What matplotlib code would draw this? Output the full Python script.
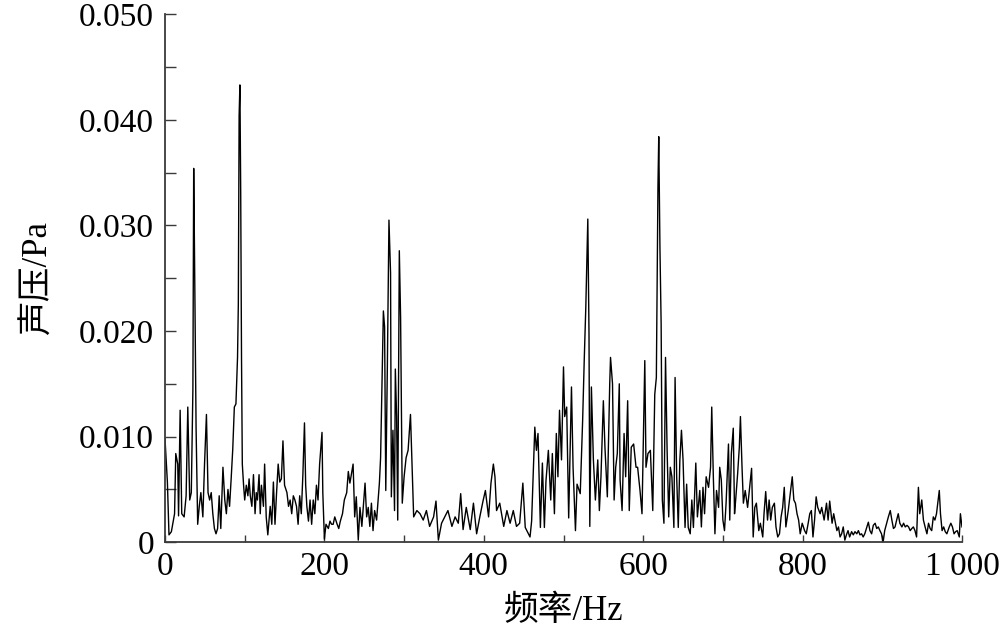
import matplotlib
matplotlib.use("Agg")
import matplotlib.pyplot as plt
from matplotlib.ticker import MultipleLocator
import numpy as np

plt.rcParams['font.family'] = ['Liberation Serif', 'Noto Sans CJK SC']

# spectrum, frequency in Hz, pressure in mPa
freq_hz = [
    0, 3, 5, 8, 12, 13.5, 16, 17, 19, 21, 24, 26.5, 28.6, 31, 33, 35, 36, 37, 39, 41,
    43, 45, 47.5, 49.6, 52, 54, 56, 58, 60, 62, 64, 66, 68, 70, 72.7, 75, 77, 79, 81, 83,
    85, 87, 89, 91, 92, 93, 94, 95, 96, 97, 98.6, 100, 102, 104, 105.5, 107, 109, 111, 113, 114.5,
    116, 118, 119.5, 121, 123.5, 125, 127, 129, 132, 134, 136, 138, 140, 142, 144, 146, 148, 150, 153, 155,
    157, 159, 161, 163, 165, 167, 169, 171, 173, 175, 176.5, 178, 180, 182, 184, 186, 188, 190, 192, 194,
    197, 198, 200, 202, 205, 207, 209, 211, 213, 216, 218, 220, 222.7, 225, 228, 230,
]
pressure_mpa = [
    9.8, 5.7, 0.7, 1.0, 2.7, 8.4, 7.4, 2.5, 12.5, 2.7, 2.4, 4.4, 12.8, 4.0, 4.7, 14.5, 35.4, 27.6, 10.8, 1.7,
    3.4, 4.7, 2.4, 7.4, 12.1, 4.7, 4.0, 4.7, 2.7, 1.3, 0.8, 1.3, 4.4, 1.3, 7.1, 4.0, 2.7, 5.0, 3.4, 6.0,
    8.8, 12.8, 13.1, 17.5, 22.5, 40.4, 43.3, 33.0, 17.5, 7.4, 5.4, 4.0, 5.4, 4.4, 6.0, 4.4, 3.4, 6.4, 2.7, 4.7,
    4.0, 6.4, 2.7, 5.4, 3.4, 7.4, 2.4, 0.7, 3.4, 1.7, 5.7, 1.7, 4.7, 7.4, 5.7, 6.0, 9.6, 5.4, 4.7, 3.4,
    4.0, 2.7, 4.4, 4.0, 3.4, 1.7, 4.4, 2.7, 6.4, 11.3, 5.4, 3.4, 2.0, 4.0, 1.7, 4.0, 2.7, 5.4, 4.0, 7.4,
    10.4, 4.7, 0.3, 1.7, 1.3, 2.0, 1.7, 1.7, 2.4, 1.7, 1.3, 2.0, 2.7, 4.0, 4.7, 6.7,
]

freq_hz += [
    232, 236, 238, 240, 242.5, 244.6, 247, 251, 253, 255, 257, 259, 261, 263, 265.5, 269, 270.5, 274, 275.5, 277,
    279, 281, 283, 284, 286, 288, 289, 290.6, 292, 294, 295.6, 297.7, 300, 302.5, 305, 308, 310, 312, 316, 320,
    324, 328, 332, 337, 340, 343, 347, 351, 355, 360, 364, 368, 371, 374, 378, 383, 387, 391, 395, 399,
    402, 406, 409, 412, 414, 416, 420, 425, 429, 433, 437, 441,
]
pressure_mpa += [
    5.6, 7.4, 2.4, 4.3, 0.2, 3.3, 1.5, 5.6, 2.4, 3.3, 1.5, 3.7, 1.1, 3.0, 2.1, 5.6, 8.0, 21.9, 20.4, 4.9,
    16.7, 30.5, 25.5, 4.3, 10.6, 3.0, 16.4, 11.9, 2.1, 27.6, 21.3, 3.7, 6.2, 8.0, 8.7, 12.1, 7.1, 2.4, 3.0, 2.7,
    2.1, 3.0, 1.5, 2.4, 3.9, 0.2, 1.8, 2.4, 3.0, 1.5, 2.4, 1.8, 4.6, 1.2, 3.3, 1.2, 3.7, 0.8, 2.4, 3.9,
    4.9, 2.4, 5.6, 7.4, 6.2, 3.0, 3.7, 1.5, 3.0, 1.8, 3.0, 1.5,
]

freq_hz += [
    445, 449, 452, 456, 458, 460, 464, 466, 468, 471, 473.5, 476, 478, 481, 484, 486, 488.6, 491, 493, 495,
    497.5, 500, 501.5, 504, 506.5, 510, 512, 515, 517, 521, 524, 526, 528, 530.5, 532, 533, 535, 537.5, 540, 543,
    545, 547, 550, 552, 555, 558, 559, 561.5, 563.5, 565.5, 567.5, 570, 571, 573.5, 576, 578, 580.5, 582.5, 585, 588,
    591, 593, 596, 598.5, 602, 603.5, 606, 609, 612, 614.5, 616.5, 618.5, 619.5, 621, 622.5, 624, 626, 628, 630, 632,
    634, 636, 638.5, 640, 642, 644, 646, 648, 650, 652.5, 654.5, 656.5, 659, 661, 663, 666, 668, 671,
]
pressure_mpa += [
    1.8, 5.6, 1.4, 0.8, 0.5, 2.0, 10.9, 8.7, 10.3, 1.4, 7.5, 1.4, 5.8, 8.7, 4.0, 8.4, 2.7, 10.3, 6.2, 12.5,
    7.8, 16.6, 11.9, 12.8, 2.3, 14.7, 7.1, 1.1, 5.5, 4.6, 11.5, 17.2, 22.3, 30.6, 19.7, 1.5, 14.7, 7.8, 4.0, 7.8,
    3.0, 6.2, 13.4, 9.0, 4.3, 15.0, 17.5, 15.0, 4.0, 7.1, 8.4, 15.0, 5.9, 3.0, 10.3, 6.2, 13.4, 3.0, 9.0, 9.3,
    7.1, 7.1, 4.9, 2.7, 17.2, 7.1, 8.4, 8.7, 3.0, 14.0, 15.6, 33.6, 38.4, 27.9, 20.7, 4.0, 1.8, 17.5, 8.7, 2.4,
    7.1, 6.2, 1.4, 15.6, 6.2, 1.4, 7.8, 10.6, 7.8, 1.4, 5.5, 1.4, 0.8, 4.0, 1.4, 7.5, 2.4, 4.9,
]

freq_hz += [
    673, 675, 677, 679, 682, 684.5, 686, 688, 690, 692, 694.6, 696, 698, 700, 702, 704, 707, 708.6, 710.6, 713,
    714.6, 716, 718.5, 720.6, 722, 724, 725.7, 728, 731, 733.5, 736, 738, 740, 742, 745, 747, 750, 751.6, 753.7, 756,
    758, 760, 762, 764.6, 766.6, 768.8, 771, 773, 775, 777, 779, 782, 785, 787, 789, 791, 793, 795, 797, 799.5,
    802.5, 804.6, 807, 809, 811, 813, 815, 817, 819, 822, 824, 827, 830, 832, 834, 837, 839,
]
pressure_mpa += [
    1.45, 5.2, 2.7, 6.2, 5.2, 7.1, 12.8, 6.2, 0.8, 4.9, 3.3, 7.1, 5.9, 2.1, 1.1, 3.7, 9.3, 2.1, 8.4, 10.8,
    2.7, 4.0, 6.5, 9.0, 11.9, 7.1, 3.7, 4.9, 3.3, 5.2, 7.0, 0.5, 3.3, 3.7, 1.1, 1.8, 0.5, 2.7, 4.8, 2.1,
    4.0, 2.1, 3.3, 3.7, 1.45, 0.5, 0.8, 2.4, 3.3, 5.2, 1.45, 3.0, 4.9, 6.2, 4.0, 3.7, 2.7, 2.1, 0.8, 1.8,
    1.1, 0.8, 1.8, 2.7, 3.0, 0.5, 2.1, 4.3, 3.3, 2.7, 3.3, 2.1, 3.7, 2.1, 3.9, 1.8, 2.7,
]

freq_hz += [
    843, 845, 847, 849, 851, 853, 855, 857, 859, 861.5, 863.6, 865.7, 868, 870, 872, 874, 876, 878, 880,
    882.5, 884.5, 886.6, 888.7, 891, 893, 895, 897, 899, 901, 903, 905.5, 907.6, 910, 912, 914, 916, 918, 920, 922,
    924.6, 926.7, 928.8, 931, 933, 935, 937, 939, 941, 943, 945.3, 947, 949.5, 951.6, 953.7, 956, 958, 960, 962, 964,
    966, 968, 970, 971.5, 973, 975, 977, 979, 981, 984, 986, 988, 990, 992, 994, 996.6, 998, 1000,
]
pressure_mpa += [
    1.1, 1.45, 0.5, 0.8, 1.45, 0.2, 0.7, 1.1, 0.5, 1.0, 0.7, 1.0, 0.8, 1.1, 0.7, 0.8, 0.5, 0.8, 1.3,
    1.9, 1.1, 0.8, 1.6, 1.8, 1.3, 1.45, 1.1, 0.8, 0.0, 1.1, 1.8, 2.4, 3.0, 2.1, 1.3, 1.45, 2.1, 2.7, 1.8,
    1.45, 1.8, 1.45, 1.6, 1.45, 1.1, 1.3, 1.45, 1.1, 0.5, 5.2, 2.7, 4.0, 2.1, 1.45, 0.8, 1.8, 1.3, 1.1, 2.4,
    2.1, 2.7, 4.0, 4.9, 2.7, 1.1, 1.45, 1.0, 0.8, 1.45, 1.8, 1.45, 0.8, 1.0, 1.1, 0.5, 2.7, 1.45,
]

x_ticks = [0, 200, 400, 600, 800, 1000]
x_labels = ["0", "200", "400", "600", "800", "1 000"]
y_ticks = [0, 0.01, 0.02, 0.03, 0.04, 0.05]
y_labels = ["0", "0.010", "0.020", "0.030", "0.040", "0.050"]

x = np.array(freq_hz)
y = np.array(pressure_mpa) / 1000.0

fig = plt.figure(figsize=(10, 6.44), dpi=100)
ax = fig.add_axes([0.165, 0.158, 0.797, 0.820])
ax.plot(x, y, color='black', lw=1.0)

ax.set_xlim(0, 1000)
ax.set_ylim(0, 0.05)
ax.set_xticks(x_ticks)
ax.set_xticklabels(x_labels)
ax.set_yticks(y_ticks)
ax.set_yticklabels(y_labels)
ax.xaxis.set_minor_locator(MultipleLocator(100))
ax.yaxis.set_minor_locator(MultipleLocator(0.005))

for s in ['top', 'right']:
    ax.spines[s].set_visible(False)
for s in ['left', 'bottom']:
    ax.spines[s].set_color('#3a3a3a')
    ax.spines[s].set_linewidth(1.3)

ax.tick_params(axis='both', which='both', direction='in', colors='#3a3a3a',
               labelcolor='black', labelsize=24, width=1.0)
ax.tick_params(axis='x', which='both', length=5, pad=7)
ax.tick_params(axis='y', which='both', length=8, pad=8)

ax.set_xlabel("频率/Hz", fontsize=25, labelpad=9)
ax.set_ylabel("声压/Pa", fontsize=25, labelpad=17)

fig.savefig("out.png", dpi=100)
